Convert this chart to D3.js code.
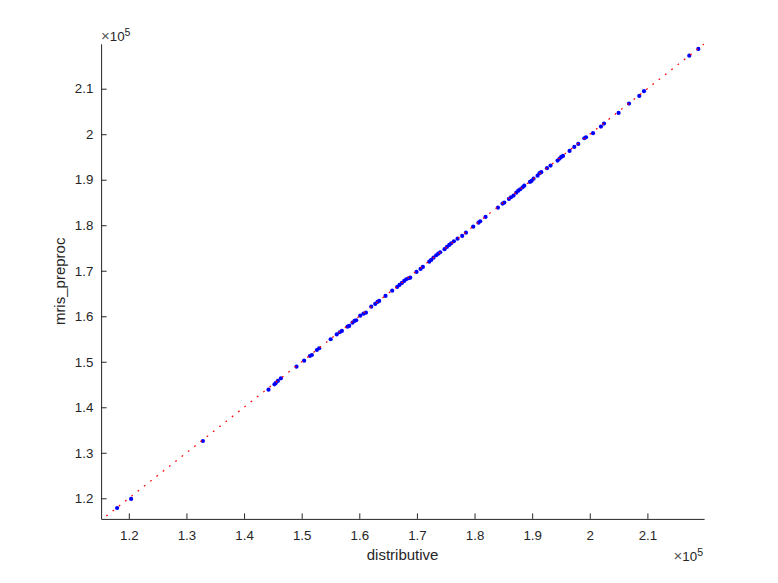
<!DOCTYPE html>
<html>
<head>
<meta charset="utf-8">
<script src="https://cdn.jsdelivr.net/npm/d3@7"></script>
<style>
  html, body { margin: 0; padding: 0; background: #fff; }
  svg { display: block; }
  text { font-family: "Liberation Sans", Arial, Helvetica, sans-serif; fill: #262626; }
</style>
</head>
<body>
<svg id="chart" width="778" height="583"></svg>
<script>
// ---- data ----
const xValues = [
  1.1797e5, 1.2040e5, 1.3285e5, 1.4424e5, 1.4528e5, 1.4552e5, 1.4587e5, 1.4639e5, 1.4910e5, 1.5043e5,
  1.5142e5, 1.5177e5, 1.5264e5, 1.5304e5, 1.5503e5, 1.5608e5, 1.5660e5, 1.5698e5, 1.5795e5, 1.5825e5,
  1.5882e5, 1.5917e5, 1.5946e5, 1.6016e5, 1.6073e5, 1.6115e5, 1.6207e5, 1.6276e5, 1.6316e5, 1.6345e5,
  1.6455e5, 1.6571e5, 1.6658e5, 1.6698e5, 1.6740e5, 1.6780e5, 1.6814e5, 1.6854e5, 1.6884e5, 1.6993e5,
  1.7063e5, 1.7104e5, 1.7214e5, 1.7248e5, 1.7288e5, 1.7335e5, 1.7370e5, 1.7405e5, 1.7479e5, 1.7521e5,
  1.7561e5, 1.7595e5, 1.7642e5, 1.7705e5, 1.7786e5, 1.7851e5, 1.7977e5, 1.8069e5, 1.8099e5, 1.8191e5,
  1.8406e5, 1.8486e5, 1.8516e5, 1.8597e5, 1.8632e5, 1.8677e5, 1.8724e5, 1.8759e5, 1.8793e5, 1.8833e5,
  1.8863e5, 1.8962e5, 1.8990e5, 1.9024e5, 1.9094e5, 1.9128e5, 1.9158e5, 1.9257e5, 1.9319e5, 1.9441e5,
  1.9476e5, 1.9505e5, 1.9535e5, 1.9649e5, 1.9731e5, 1.9800e5, 1.9905e5, 1.9934e5, 2.0056e5, 2.0194e5,
  2.0247e5, 2.0500e5, 2.0681e5, 2.0859e5, 2.0941e5, 2.1727e5, 2.1884e5
];
const yValues = [
  1.1787e5, 1.1985e5, 1.3259e5, 1.4387e5, 1.4505e5, 1.4534e5, 1.4578e5, 1.4637e5, 1.4892e5, 1.5024e5,
  1.5127e5, 1.5149e5, 1.5259e5, 1.5297e5, 1.5495e5, 1.5600e5, 1.5648e5, 1.5677e5, 1.5771e5, 1.5787e5,
  1.5859e5, 1.5897e5, 1.5912e5, 1.6013e5, 1.6057e5, 1.6079e5, 1.6211e5, 1.6270e5, 1.6314e5, 1.6336e5,
  1.6446e5, 1.6563e5, 1.6644e5, 1.6688e5, 1.6732e5, 1.6776e5, 1.6813e5, 1.6835e5, 1.6848e5, 1.6974e5,
  1.7040e5, 1.7084e5, 1.7200e5, 1.7237e5, 1.7288e5, 1.7341e5, 1.7376e5, 1.7407e5, 1.7473e5, 1.7523e5,
  1.7567e5, 1.7604e5, 1.7648e5, 1.7705e5, 1.7765e5, 1.7837e5, 1.7969e5, 1.8057e5, 1.8088e5, 1.8182e5,
  1.8387e5, 1.8475e5, 1.8497e5, 1.8578e5, 1.8615e5, 1.8651e5, 1.8716e5, 1.8760e5, 1.8791e5, 1.8835e5,
  1.8870e5, 1.8952e5, 1.8974e5, 1.9024e5, 1.9090e5, 1.9143e5, 1.9165e5, 1.9253e5, 1.9310e5, 1.9420e5,
  1.9464e5, 1.9501e5, 1.9523e5, 1.9633e5, 1.9721e5, 1.9787e5, 1.9912e5, 1.9934e5, 2.0022e5, 2.0167e5,
  2.0233e5, 2.0468e5, 2.0673e5, 2.0842e5, 2.0945e5, 2.1727e5, 2.1875e5
];
// identity reference line endpoints (y = x)
const refLine = [1.15e5, 2.20e5];
const xLimits = [1.1519e5, 2.1984e5];
const yLimits = [1.1547e5, 2.1987e5];
const tickValues = [1.2e5, 1.3e5, 1.4e5, 1.5e5, 1.6e5, 1.7e5, 1.8e5, 1.9e5, 2.0e5, 2.1e5];
const tickLabels = ["1.2", "1.3", "1.4", "1.5", "1.6", "1.7", "1.8", "1.9", "2", "2.1"];
const xLabel = "distributive";
const yLabel = "mris_preproc";
const exponent = "5";

// ---- layout ----
const svg = d3.select("#chart");
const L = 101.1, R = 704.1, T = 43.8, B = 518.9;
const axisColor = "#262626";

const x = d3.scaleLinear().domain(xLimits).range([L, R]);
const y = d3.scaleLinear().domain(yLimits).range([B, T]);

svg.append("defs").append("clipPath").attr("id", "plotclip")
  .append("rect").attr("x", L).attr("y", T).attr("width", R - L).attr("height", B - T);

const plot = svg.append("g").attr("clip-path", "url(#plotclip)");

// scatter points
const pts = xValues.map((v, i) => [v, yValues[i]]);
plot.append("g").selectAll("circle").data(pts).join("circle")
  .attr("cx", d => x(d[0]))
  .attr("cy", d => y(d[1]))
  .attr("r", 2.1)
  .attr("fill", "#0000ff");

// dotted red identity line
plot.append("line")
  .attr("x1", x(refLine[0])).attr("y1", y(refLine[0]))
  .attr("x2", x(refLine[1])).attr("y2", y(refLine[1]))
  .attr("stroke", "#ff0000")
  .attr("stroke-width", 1.2)
  .attr("stroke-dasharray", "1.8 6.2");

// axes
const fmt = d => tickLabels[tickValues.indexOf(d)];
const xAxis = d3.axisBottom(x).tickValues(tickValues).tickFormat(fmt)
  .tickSizeInner(-5.5).tickSizeOuter(0).tickPadding(11.5);
const yAxis = d3.axisLeft(y).tickValues(tickValues).tickFormat(fmt)
  .tickSizeInner(-5.5).tickSizeOuter(0).tickPadding(7.8);

const gx = svg.append("g").attr("transform", `translate(0,${B})`).call(xAxis);
const gy = svg.append("g").attr("transform", `translate(${L},0)`).call(yAxis);
[gx, gy].forEach(g => {
  g.select(".domain").attr("stroke", axisColor).attr("stroke-width", 1);
  g.selectAll(".tick line").attr("stroke", axisColor).attr("stroke-width", 1);
  g.selectAll(".tick text").attr("fill", axisColor)
    .style("font-family", '"Liberation Sans", Arial, Helvetica, sans-serif')
    .style("font-size", "13.3px");
});

// axis labels
svg.append("text")
  .attr("x", (L + R) / 2).attr("y", 560)
  .attr("text-anchor", "middle")
  .style("font-size", "15px")
  .text(xLabel);

svg.append("text")
  .attr("transform", `translate(64.5,${(T + B) / 2}) rotate(-90)`)
  .attr("text-anchor", "middle")
  .style("font-size", "15px")
  .text(yLabel);

// exponent labels (x10^5)
function expLabel(xpos, ypos, anchor) {
  const t = svg.append("text")
    .attr("x", xpos).attr("y", ypos)
    .attr("text-anchor", anchor)
    .style("font-size", "13.3px");
  t.append("tspan").style("font-size", "15px").style("fill", "#555").text("\u00d7");
  t.append("tspan").text("10");
  t.append("tspan").attr("dy", "-5.5").style("font-size", "10.5px").text(exponent);
}
expLabel(101, 41, "start");
expLabel(703, 561, "end");
</script>
</body>
</html>
